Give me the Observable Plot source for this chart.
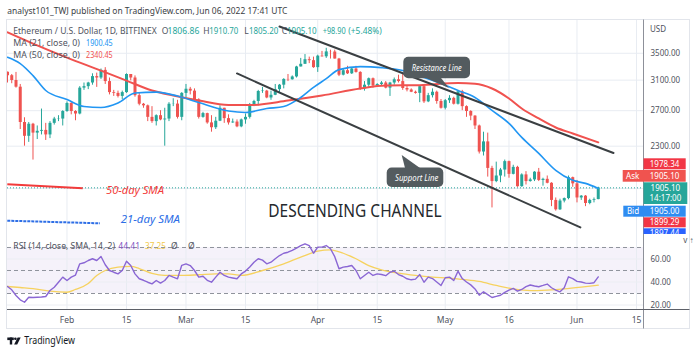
<!DOCTYPE html>
<html><head><meta charset="utf-8">
<script src="https://cdn.jsdelivr.net/npm/d3@7"></script>
<script src="https://cdn.jsdelivr.net/npm/@observablehq/plot@0.6"></script>
<style>
html,body{margin:0;padding:0;background:#fff;}
#wrap{position:relative;width:696px;height:354px;overflow:hidden;background:#fff;}
#wrap svg{position:absolute;left:0;}
</style></head><body><div id="wrap"></div>
<script>
// ---------- data (ETH/USD daily, Bitfinex) ----------
const firstDay = "2022-01-18";
const opens = [
 3212,3163,3095,3003,2560,2405,2540,2440,2460,2470,2420,2550,2600,2600,
 2690,2790,2690,2660,2990,3010,3060,3150,3130,3240,3080,2930,2920,2880,2930,3180,3130,2890,2780,2760,2620,2570,2640,2590,2600,2780,2782,2620,
 2920,2975,2950,2835,2620,2665,2555,2500,2575,2730,2605,2555,2565,2510,2590,2620,2770,2815,2945,2950,2860,2895,2970,3030,3110,3105,3145,3290,3330,3400,3385,
 3280,3455,3445,3522,3520,3410,3170,3235,3190,3260,3210,2980,3030,3120,3020,3040,3060,2990,3060,3105,3080,2985,2965,2935,2920,3010,2810,2890,2935,2815,
 2730,2825,2855,2780,2940,2750,2690,2635,2520,2240,2345,2080,1960,2010,2065,2145,2025,2090,1915,2020,1960,1975,2045,1970,1980,1945,1800,1725,1795,1815,1995,
 1940,1820,1835,1775,1800,1806.86];
const highs = [
 3215,3180,3210,3040,2615,2560,2550,2520,2720,2550,2570,2620,2640,2700,
 2810,2800,2700,3010,3060,3070,3190,3200,3260,3280,3130,2960,2950,2950,3190,3180,3160,2930,2790,2770,2750,2650,2700,2730,2800,2850,2830,2930,
 3040,3000,2980,2850,2680,2670,2640,2620,2760,2730,2650,2600,2590,2600,2660,2790,2830,2960,3000,2960,2950,3040,3040,3120,3180,3160,3300,3420,3480,3440,3440,
 3470,3530,3580,3550,3550,3420,3260,3300,3270,3300,3220,3080,3130,3130,3050,3080,3080,3070,3130,3170,3190,3020,2980,2950,3020,3030,2920,2980,2950,2840,
 2840,2890,2870,2960,2960,2760,2700,2640,2530,2450,2440,2100,2140,2080,2160,2150,2110,2100,2030,2050,1990,2050,2080,1990,2010,1950,1820,1810,1820,2010,2000,
 1970,1840,1840,1810,1820,1910.7];
const lows = [
 3060,3050,2990,2480,2300,2340,2160,2370,2420,2360,2380,2530,2570,2520,
 2680,2650,2580,2650,2960,2970,3030,3000,3110,3040,2900,2880,2860,2840,2920,3090,2870,2760,2730,2570,2550,2520,2580,2300,2570,2750,2600,2580,
 2860,2900,2820,2600,2610,2540,2450,2480,2570,2550,2530,2550,2500,2500,2540,2600,2750,2760,2920,2850,2830,2890,2930,2980,3080,3100,3130,3290,3330,3340,3270,
 3210,3440,3420,3410,3410,3150,3160,3180,3180,3200,2960,2950,3000,2990,3010,3020,2980,2880,3030,3060,2960,2940,2930,2910,2800,2790,2800,2860,2780,2720,
 2710,2790,2770,2770,2700,2620,2580,2480,2220,2200,2000,1740,1950,1950,2000,1990,2020,1910,1910,1930,1955,1960,1960,1920,1940,1750,1715,1720,1780,1805,1910,
 1780,1800,1750,1765,1780,1805.2];
const closes = [
 3163,3095,3003,2560,2405,2540,2440,2460,2470,2420,2550,2600,2603,2690,
 2790,2690,2660,2990,3010,3060,3150,3130,3240,3080,2930,2920,2880,2930,3180,3130,2890,2780,2760,2620,2570,2640,2590,2600,2780,2782,2620,2920,
 2975,2950,2835,2620,2665,2555,2500,2575,2730,2605,2555,2565,2510,2590,2620,2770,2815,2945,2950,2860,2895,2970,3030,3110,3105,3145,3290,3330,3400,3385,3280,
 3455,3445,3522,3520,3410,3170,3235,3190,3260,3210,2980,3030,3120,3020,3040,3060,2990,3060,3105,3080,2985,2965,2935,2920,3010,2810,2890,2935,2815,2730,
 2825,2855,2780,2940,2750,2690,2635,2520,2240,2345,2080,1960,2010,2065,2145,2025,2090,1915,2020,1960,1975,2045,1970,1980,1945,1800,1725,1795,1815,1995,1940,
 1820,1835,1775,1800,1806,1905.1];
const rsiValues = [
 36.1,33.2,28.3,24.5,22.4,26.8,26.5,26.8,27.0,27.4,32.6,35.5,39.8,44.2,
 41.3,44.2,46,55.8,56.7,58.7,60.2,58.7,62.2,55,50,48.5,47.1,50,58.1,54.3,47.1,42.8,41.5,39.8,38.4,41.3,39.0,41.3,45.7,44.2,42.8,54.5,
 55.8,54.3,50,44.2,45,41.5,39.8,44.2,48.5,45.7,44.2,43.5,42.8,47,49.5,53,57.2,60.2,59,55.8,57.2,60.2,63,65,65.9,67.5,69.5,71.7,73.2,71.7,65,
 70.3,70.3,71.7,68.9,62,51.5,52.9,53.5,54.3,50,42.8,45.7,48.5,45.7,47.1,46.5,45.5,48.5,49.4,46.5,45,42.8,41.9,42.5,46.5,39.8,44.2,43,40,37,
 43.7,44.2,41.3,49.4,43,40,37.5,34,28.5,31.5,29,26.5,27.5,28.5,31,33,34.4,32,33.5,36,37.4,36.5,35.9,37,38.2,35,33,31.5,35,44.5,43,
 40.5,40,39,38.8,39.4,44.41];

const ma21Dates = ["2022-01-18","2022-01-21","2022-01-24","2022-01-27","2022-02-01","2022-02-05","2022-02-09","2022-02-13","2022-02-17","2022-02-22","2022-02-27","2022-03-04","2022-03-11","2022-03-15","2022-03-20","2022-03-24","2022-03-28","2022-03-31","2022-04-03","2022-04-06","2022-04-11","2022-04-16","2022-04-21","2022-04-26","2022-04-30","2022-05-04","2022-05-08","2022-05-12","2022-05-16","2022-05-19","2022-05-23","2022-05-27","2022-05-31","2022-06-03","2022-06-06"];
const ma21Values = [3437,3341,3164,2958,2840,2751,2739,2795,2924,2937,2885,2801,2697,2679,2727,2751,2866,3000,3120,3251,3295,3280,3237,3136,3052,2958,2866,2703,2549,2393,2226,2062,1971,1944,1900.45];

const ma50Dates = ["2022-01-18","2022-01-24","2022-02-01","2022-02-09","2022-02-15","2022-02-21","2022-02-26","2022-03-04","2022-03-11","2022-03-16","2022-03-25","2022-04-02","2022-04-11","2022-04-17","2022-04-25","2022-05-04","2022-05-08","2022-05-12","2022-05-16","2022-05-19","2022-05-23","2022-05-27","2022-05-31","2022-06-06"];
const ma50Values = [3848,3657,3433,3237,3094,2958,2892,2827,2770,2770,2827,2892,2985,3025,3030,3060,3050,2985,2853,2727,2607,2503,2436,2340.45];

const rsiMaDates = ["2022-01-18","2022-01-21","2022-01-24","2022-01-28","2022-02-01","2022-02-03","2022-02-06","2022-02-08","2022-02-10","2022-02-13","2022-02-16","2022-02-18","2022-02-21","2022-02-24","2022-02-28","2022-03-04","2022-03-08","2022-03-11","2022-03-14","2022-03-19","2022-03-24","2022-03-28","2022-04-01","2022-04-04","2022-04-07","2022-04-10","2022-04-13","2022-04-16","2022-04-20","2022-04-24","2022-04-28","2022-05-02","2022-05-05","2022-05-09","2022-05-13","2022-05-17","2022-05-21","2022-05-25","2022-05-29","2022-06-02","2022-06-06"];
const rsiMaValues = [36.1,35.2,34.3,32.0,31.1,33.5,38.7,45.7,50.0,52.9,53.5,51.7,47.4,45.7,45.7,46.3,47.1,47.1,45.7,50.0,55.8,61.6,66.8,68.0,65.0,60.2,54.3,50.6,47.7,45.7,44.2,43.3,42.2,40.5,37.0,34.0,32.5,33.0,34.0,35.5,37.25];

const resistanceDates = ["2022-03-23T00:00Z","2022-06-09T14:00Z"];
const resistancePrices = [3950,2230];
const supportDates = ["2022-03-13T00:00Z","2022-06-01T19:00Z"];
const supportPrices = [3195,1593];

const tickDates = ["2022-02-01","2022-02-15","2022-03-01","2022-03-15","2022-04-01","2022-04-15","2022-05-01","2022-05-16","2022-06-01","2022-06-15"];
const tickLabels = ["Feb","15","Mar","15","Apr","15","May","16","Jun","15"];
const priceTicks = [3500,3100,2700,2300,1900];
const rsiTicks = [20,40,60];
const rsiLevels = [70,50,30];
const rsiBand = [30,70];

// ---------- build ----------
const G = "#26a69a", R = "#ef5350";
const parse = s => new Date(s.length === 10 ? s + "T00:00Z" : s);
const start = parse(firstDay);
const candles = opens.map((o,i)=>({date:d3.utcDay.offset(start,i), o, h:highs[i], l:lows[i], c:closes[i]}));
const up = candles.filter(d=>d.c>=d.o), down = candles.filter(d=>d.c<d.o);
const pts = (ds,vs)=>ds.map((d,i)=>({date:parse(d), v:vs[i]}));
const ma21 = pts(ma21Dates, ma21Values), ma50 = pts(ma50Dates, ma50Values);
const rsiMa = pts(rsiMaDates, rsiMaValues);
const rsi = rsiValues.map((v,i)=>({date:d3.utcDay.offset(start,i), v}));
const resist = pts(resistanceDates, resistancePrices), support = pts(supportDates, supportPrices);
const ticks = tickDates.map(parse);
const labelOf = new Map(ticks.map((d,i)=>[+d, tickLabels[i]]));
const xDomain = [parse("2022-01-18T00:00Z"), parse("2022-06-16T15:32Z")];
const font = "'Noto Sans', sans-serif";
const grid = "#e8ecf2";

const main = Plot.plot({
  width:696, height:234, marginLeft:7, marginRight:53, marginTop:20, marginBottom:0,
  style:{background:"transparent", fontFamily:font},
  x:{type:"utc", domain:xDomain, axis:null},
  y:{type:"log", domain:[1543,4059], axis:null},
  marks:[
    Plot.ruleX(ticks, {stroke:grid}),
    Plot.ruleY(priceTicks, {stroke:grid}),
    Plot.axisY(priceTicks, {anchor:"right", tickSize:0, tickPadding:7, tickFormat:d=>d.toFixed(2), fontSize:8, color:"#50535e"}),
    Plot.ruleY([closes[closes.length-1]], {stroke:G, strokeDasharray:"1,2"}),
    Plot.ruleX(up, {x:"date", y1:"l", y2:"h", stroke:G, clip:true}),
    Plot.ruleX(down, {x:"date", y1:"l", y2:"h", stroke:R, clip:true}),
    Plot.ruleX(up, {x:"date", y1:"o", y2:"c", stroke:G, strokeWidth:3, clip:true}),
    Plot.ruleX(down, {x:"date", y1:"o", y2:"c", stroke:R, strokeWidth:3, clip:true}),
    Plot.line(ma50, {x:"date", y:"v", stroke:"#f0524f", strokeWidth:2, curve:"monotone-x", clip:true}),
    Plot.line(ma21, {x:"date", y:"v", stroke:"#2196f3", strokeWidth:1.6, curve:"monotone-x", clip:true}),
    Plot.line(resist, {x:"date", y:"v", stroke:"#3a3f42", strokeWidth:2}),
    Plot.line(support, {x:"date", y:"v", stroke:"#3a3f42", strokeWidth:2})
  ]
});
main.style.top = "0px";

const lower = Plot.plot({
  width:696, height:120, marginLeft:7, marginRight:53, marginTop:0, marginBottom:45,
  style:{background:"transparent", fontFamily:font},
  x:{type:"utc", domain:xDomain, axis:null},
  y:{domain:[16.09,81.3], axis:null},
  marks:[
    Plot.rect([rsiBand], {x1:()=>xDomain[0], x2:()=>xDomain[1], y1:d=>d[0], y2:d=>d[1], fill:"#7e57c2", fillOpacity:0.08}),
    Plot.ruleX(ticks, {stroke:grid}),
    Plot.ruleY(rsiTicks, {stroke:"#eceef3"}),
    Plot.ruleY(rsiLevels, {stroke:"#8f939c", strokeDasharray:"4,3"}),
    Plot.line(rsiMa, {x:"date", y:"v", stroke:"#f6d25f", strokeWidth:1.3, curve:"monotone-x"}),
    Plot.line(rsi, {x:"date", y:"v", stroke:"#8a66d4", strokeWidth:1.4}),
    Plot.axisY(rsiTicks, {anchor:"right", tickSize:0, tickPadding:7, tickFormat:d=>d.toFixed(2), fontSize:8, color:"#50535e"}),
    Plot.axisX(ticks, {tickSize:0, tickPadding:7, tickFormat:d=>labelOf.get(+d), fontSize:8.5, color:"#50535e"})
  ]
});
lower.style.top = "234px";

// ---------- overlay: header, legends, annotations, price labels ----------
const t = (x,y,s,o={}) => `<text x="${x}" y="${y}" font-size="${o.size||8.5}" fill="${o.fill||'#50535e'}"${o.len?` textLength="${o.len}" lengthAdjust="spacingAndGlyphs"`:''}${o.anchor?` text-anchor="${o.anchor}"`:''}${o.italic?' font-style="italic"':''}>${s}</text>`;
const box = (x,y,w,h,f) => `<rect x="${x}" y="${y}" width="${w}" height="${h}" fill="${f}"/>`;
const W = "#ffffff";
const ov = `
<svg width="696" height="354" viewBox="0 0 696 354" style="top:0;font-family:${font}" xmlns="http://www.w3.org/2000/svg">
<defs><clipPath id="pane"><rect x="600" y="0" width="96" height="234"/></clipPath></defs>
<rect x="6.5" y="19.5" width="683" height="309" fill="none" stroke="#e2e5eb"/>
<line x1="643.5" y1="19.5" x2="643.5" y2="328.5" stroke="#8d9099"/>
<line x1="7" y1="309.5" x2="689.5" y2="309.5" stroke="#5d6068"/>
${t(7.3,14,"analyst101_TWJ published on TradingView.com, Jun 06, 2022 17:41 UTC",{size:9,fill:"#3b3e45",len:280})}
${t(13.3,33.5,"Ethereum / U.S. Dollar, 1D, BITFINEX",{len:143.4})}
${t(161.7,33.5,"O")}${t(167.5,33.5,"1806.86",{fill:G,len:31.8})}
${t(203.3,33.5,"H")}${t(209.3,33.5,"1910.70",{fill:G,len:29})}
${t(244.3,33.5,"L")}${t(249,33.5,"1805.20",{fill:G,len:29.3})}
${t(281.7,33.5,"C")}${t(287,33.5,"1905.10",{fill:G,len:29.7})}
${t(322.7,33.5,"+98.90",{fill:G,len:23})}${t(348.3,33.5,"(+5.48%)",{fill:G,len:33.4})}
${t(13.3,45.5,"MA (21, close, 0)",{len:66.7})}${t(86,45.5,"1900.45",{fill:"#2196f3",len:26.7})}
${t(13.3,57.5,"MA (50, close, 0)",{len:66.7})}${t(86,57.5,"2340.45",{fill:"#f0524f",len:26.7})}
${t(650,31.5,"USD",{size:8})}
<line x1="7.3" y1="184.3" x2="82.7" y2="188.3" stroke="#f23b3b" stroke-width="2"/>
${t(106,194,"50-day SMA",{size:10.5,fill:"#f23b3b",len:58,italic:1})}
<line x1="7.3" y1="220.7" x2="100" y2="223.3" stroke="#2d6ee6" stroke-width="2" stroke-dasharray="3,1"/>
${t(120.7,223.3,"21-day SMA",{size:10.5,fill:"#2d6ee6",len:59.3,italic:1})}
${t(268.3,216.7,"DESCENDING CHANNEL",{size:18.5,fill:"#25292d",len:173.4})}
<rect x="403.3" y="56.7" width="66.7" height="21.6" rx="5" fill="#535b5f"/>
<polygon points="426,78 441,78 449,88" fill="#535b5f"/>
${t(411.7,70.5,"Resistance Line",{size:8,fill:W,len:50,italic:1})}
<rect x="386.7" y="167.5" width="56.6" height="19.5" rx="5" fill="#535b5f"/>
<polygon points="405,168 420,168 401.7,155" fill="#535b5f"/>
${t(395,180.5,"Support Line",{size:8,fill:W,len:43.3,italic:1})}
${box(643.5,158.3,42.2,11,"#f23645")}${t(664.6,166.6,"1978.34",{size:8,fill:W,anchor:"middle"})}
${box(622.7,170,63,11.7,"#f0534f")}${t(632.7,178.6,"Ask",{size:8,fill:W,anchor:"middle"})}${t(664.6,178.6,"1905.10",{size:8,fill:W,anchor:"middle"})}
${box(643.5,182.3,43.8,21.7,"#26a69a")}${t(665.4,190.8,"1905.10",{size:8,fill:W,anchor:"middle"})}${t(665.4,200.8,"14:17:00",{size:8,fill:W,anchor:"middle"})}
${box(623.3,205.7,62.4,11,"#2f8cf1")}${t(633,214,"Bid",{size:8,fill:W,anchor:"middle"})}${t(664.6,214,"1905.00",{size:8,fill:W,anchor:"middle"})}
${box(643.5,217.3,42.2,10,"#f23645")}${t(664.6,225.3,"1899.29",{size:8,fill:W,anchor:"middle"})}
<g clip-path="url(#pane)">${box(643.5,228.3,42.2,10,"#2962ff")}${t(664.6,236,"1897.44",{size:8,fill:W,anchor:"middle"})}</g>
${t(13.3,248.7,"RSI (14, close, SMA, 14, 2)",{len:101.7})}
${t(118.3,248.7,"44.41",{fill:"#7e57c2",len:21.7})}
${t(145,248.7,"37.25",{fill:"#f2c94c",len:21})}
${t(171,248.7,"Ø")}${t(188,248.7,"Ø")}
<g fill="#131722">
<rect x="7.3" y="337.5" width="6.5" height="2.6"/>
<rect x="9.8" y="337.5" width="2.4" height="7"/>
<circle cx="15.4" cy="338.8" r="1.3"/>
<polygon points="17.6,337.5 20.7,337.5 17.2,344.5 14.1,344.5"/>
</g>
${t(24.3,343.8,"TradingView",{size:10.5,fill:"#131722",len:50.7})}
</svg>`;

const wrap = document.getElementById("wrap");
wrap.appendChild(main);
wrap.appendChild(lower);
wrap.insertAdjacentHTML("beforeend", ov);
</script></body></html>
